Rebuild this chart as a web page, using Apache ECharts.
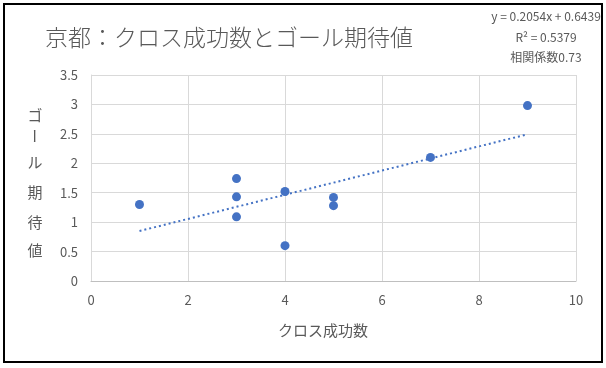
<!DOCTYPE html>
<html>
<head>
<meta charset="utf-8">
<script src="https://cdn.jsdelivr.net/npm/echarts@6/dist/echarts.min.js"></script>
<style>html,body{margin:0;padding:0;background:#fff}#c{width:606px;height:368px}</style>
</head>
<body>
<div id="c"></div>
<script>
const crosses = [1, 3, 3, 3, 4, 4, 5, 5, 7, 9];
const xgValues = [1.30, 1.74, 1.43, 1.09, 1.52, 0.60, 1.42, 1.28, 2.10, 2.98];
const slope = 0.2054;
const intercept = 0.6439;
const trendX = [1, 9];
const titleText = '京都：クロス成功数とゴール期待値';
const statLines = ['y = 0.2054x + 0.6439', 'R² = 0.5379', '相関係数0.73'];
const xName = 'クロス成功数';
const yNameChars = ['ゴ', 'ー', 'ル', '期', '待', '値'];

const font = '"Noto Sans CJK JP", "Noto Sans", sans-serif';
const gray = '#595959';
const points = crosses.map((x, i) => [x, xgValues[i]]);
const trend = trendX.map(x => [x, slope * x + intercept]);

const yNameY = [115, 136, 162, 192, 222, 250];
const yNameGraphics = yNameChars.map((ch, i) => ({
  type: 'text',
  x: 35, y: yNameY[i],
  rotation: ch === 'ー' ? -Math.PI / 2 : 0,
  style: { text: ch, fill: gray, font: '15px ' + font, textAlign: 'center', textVerticalAlign: 'middle' }
}));

const chart = echarts.init(document.getElementById('c'));
chart.setOption({
  animation: false,
  grid: { left: 91, right: 30, top: 75, bottom: 87, containLabel: false },
  xAxis: {
    type: 'value', min: 0, max: 10, interval: 2,
    axisLine: { show: true, lineStyle: { color: '#bfbfbf' } },
    axisTick: { show: false },
    axisLabel: { color: gray, fontSize: 13, fontFamily: font, margin: 13 },
    splitLine: { show: true, lineStyle: { color: '#d9d9d9' } }
  },
  yAxis: {
    type: 'value', min: 0, max: 3.5, interval: 0.5,
    axisLine: { show: true, lineStyle: { color: '#d9d9d9' } },
    axisTick: { show: false },
    axisLabel: { color: gray, fontSize: 13, fontFamily: font, margin: 13 },
    splitLine: { show: true, lineStyle: { color: '#d9d9d9' } }
  },
  series: [
    {
      type: 'line', data: trend, symbol: 'none', silent: true,
      lineStyle: { color: '#4472C4', width: 2, type: [2, 3] }
    },
    {
      type: 'scatter', data: points, symbolSize: 9,
      itemStyle: { color: '#4472C4', opacity: 1 }
    }
  ],
  graphic: [
    { type: 'rect', shape: { x: 4, y: 4, width: 598, height: 358 }, style: { fill: 'none', stroke: '#000', lineWidth: 2 } },
    { type: 'text', x: 45, y: 37, style: { text: titleText, fill: gray, font: '300 23px ' + font, textVerticalAlign: 'middle' } },
    { type: 'text', x: 546, y: 16, style: { text: statLines[0], fill: gray, font: '12px ' + font, textAlign: 'center', textVerticalAlign: 'middle' } },
    { type: 'text', x: 546, y: 37, style: { text: statLines[1], fill: gray, font: '12px ' + font, textAlign: 'center', textVerticalAlign: 'middle' } },
    { type: 'text', x: 546, y: 57, style: { text: statLines[2], fill: gray, font: '12px ' + font, textAlign: 'center', textVerticalAlign: 'middle' } },
    { type: 'text', x: 323, y: 330, style: { text: xName, fill: gray, font: '15px ' + font, textAlign: 'center', textVerticalAlign: 'middle' } }
  ].concat(yNameGraphics)
});
</script>
</body>
</html>
